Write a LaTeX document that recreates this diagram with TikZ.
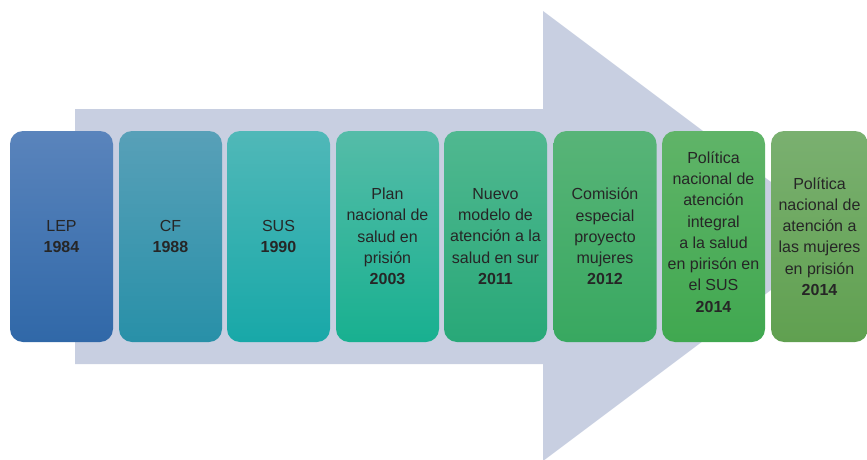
\documentclass[tikz,border=0pt]{standalone}
\usepackage{fontspec}
\setmainfont{Liberation Sans}
\begin{document}
\begin{tikzpicture}[x=1pt,y=-1pt,
  stage/.style={rounded corners=13pt, minimum width=103pt, minimum height=211pt, inner sep=0pt,
    align=center, text=black!85, font=\fontsize{16}{21.3}\selectfont},
]
\useasboundingbox (0,0) rectangle (867,460);
\definecolor{arrowc}{HTML}{C8CFE1}
\definecolor{t1}{HTML}{5A84BC}\definecolor{b1}{HTML}{3068A8}
\definecolor{t2}{HTML}{58A0B8}\definecolor{b2}{HTML}{2890A8}
\definecolor{t3}{HTML}{50B8B8}\definecolor{b3}{HTML}{18A8A8}
\definecolor{t4}{HTML}{55BCA8}\definecolor{b4}{HTML}{18B090}
\definecolor{t5}{HTML}{50B890}\definecolor{b5}{HTML}{28A878}
\definecolor{t6}{HTML}{58B478}\definecolor{b6}{HTML}{38A860}
\definecolor{t7}{HTML}{60B468}\definecolor{b7}{HTML}{40A850}
\definecolor{t8}{HTML}{7AB070}\definecolor{b8}{HTML}{60A050}
% big arrow
\fill[arrowc] (75,109) -- (543,109) -- (543,11) -- (843,236) -- (543,461) -- (543,364) -- (75,364) -- cycle;
% stages
\node[stage, top color=t1, bottom color=b1] (s1) at (61.5,236.5) {LEP\\\textbf{1984}};
\node[stage, top color=t2, bottom color=b2] (s2) at (170.5,236.5) {CF\\\textbf{1988}};
\node[stage, top color=t3, bottom color=b3] (s3) at (278.5,236.5) {SUS\\\textbf{1990}};
\node[stage, top color=t4, bottom color=b4] (s4) at (387.5,236.5) {Plan\\nacional de\\salud en\\prisión\\\textbf{2003}};
\node[stage, top color=t5, bottom color=b5] (s5) at (495.5,236.5) {Nuevo\\modelo de\\atención a la\\salud en sur\\\textbf{2011}};
\node[stage, top color=t6, bottom color=b6] (s6) at (605,236.5) {Comisión\\especial\\proyecto\\mujeres\\\textbf{2012}};
\node[stage, top color=t7, bottom color=b7] (s7) at (713.5,236.5) {Política\\nacional de\\atención\\integral\\a la salud\\en pirisón en\\el SUS\\\textbf{2014}\\[-12pt]};
\node[stage, top color=t8, bottom color=b8, minimum width=97pt] (s8) at (819.5,236.5) {Política\\nacional de\\atención a\\las mujeres\\en prisión\\\textbf{2014}};
\end{tikzpicture}
\end{document}
